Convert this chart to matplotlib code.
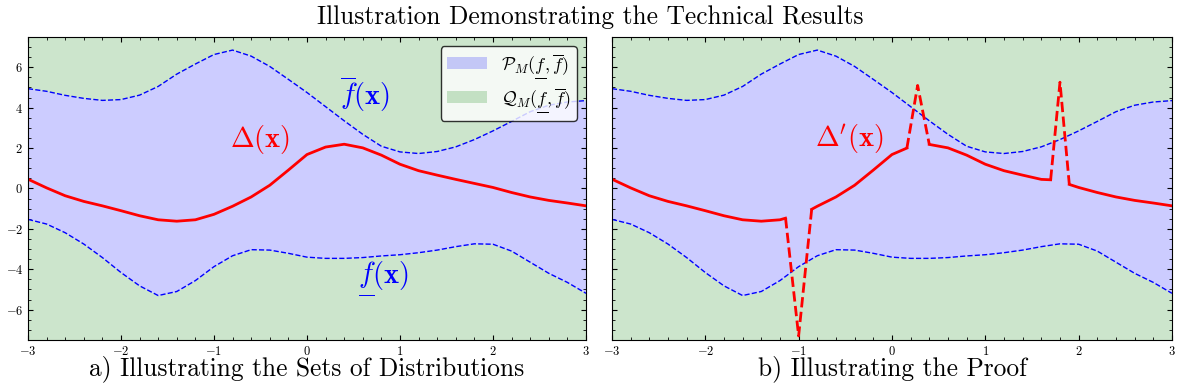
import numpy as np
import matplotlib
matplotlib.use("Agg")
from matplotlib import pyplot as plt
from matplotlib.patches import Patch
from matplotlib.ticker import MultipleLocator
from matplotlib.mathtext import MathTextParser

plt.rcParams['font.family'] = 'serif'
plt.rcParams['font.serif'] = ['cmr10']
plt.rcParams['mathtext.fontset'] = 'cm'
plt.rcParams['axes.formatter.use_mathtext'] = True

# values (step 0.2)
x = [-3.0, -2.8, -2.6, -2.4, -2.2, -2.0, -1.8, -1.6, -1.4, -1.2, -1.0,
     -0.8, -0.6, -0.4, -0.2, 0.0, 0.2, 0.4, 0.6, 0.8, 1.0,
     1.2, 1.4, 1.6, 1.8, 2.0, 2.2, 2.4, 2.6, 2.8, 3.0]
upper = [4.94, 4.81, 4.61, 4.46, 4.36, 4.40, 4.62, 5.05, 5.66, 6.16, 6.63,
         6.85, 6.55, 6.04, 5.40, 4.75, 4.05, 3.35, 2.68, 2.09, 1.81,
         1.73, 1.83, 2.06, 2.42, 2.85, 3.32, 3.80, 4.12, 4.28, 4.35]
lower = [-1.53, -1.76, -2.19, -2.75, -3.42, -4.16, -4.82, -5.30, -5.10, -4.56, -3.87,
         -3.33, -3.03, -3.05, -3.21, -3.40, -3.46, -3.46, -3.42, -3.34, -3.28,
         -3.18, -3.05, -2.88, -2.74, -2.76, -3.10, -3.65, -4.20, -4.65, -5.19]
delta = [0.46, 0.03, -0.36, -0.64, -0.86, -1.10, -1.35, -1.55, -1.62, -1.55, -1.28,
         -0.88, -0.42, 0.16, 0.91, 1.68, 2.05, 2.19, 2.01, 1.65, 1.20,
         0.88, 0.66, 0.45, 0.25, 0.05, -0.20, -0.42, -0.59, -0.72, -0.86]

# dashed spikes of Delta' in the right panel
spike_x = [[-1.14, -1.0, -0.86], [0.16, 0.275, 0.40], [1.70, 1.80, 1.90]]
spike_y = [[-1.47, -7.3, -1.03], [2.0, 5.1, 2.18], [0.43, 5.26, 0.2]]

x = np.array(x)
upper = np.array(upper)
lower = np.array(lower)
delta = np.array(delta)
ylo, yhi = -7.5, 7.5


def pick(cands):
    p = MathTextParser('path')
    for c in cands:
        try:
            p.parse('$' + c + '$')
            return c
        except Exception:
            pass
    return 'f'


# mathtext has no \underline
uf = pick([r'\underset{\overline{\;\;\;}}{f}', r'\underset{\_}{f}'])
of = r'\overline{f}'

fig = plt.figure(figsize=(11.8, 3.89), dpi=100)
ax1 = fig.add_axes([0.0237, 0.126, 0.4729, 0.779])
ax2 = fig.add_axes([0.5186, 0.126, 0.4746, 0.779], sharey=ax1)

for ax in (ax1, ax2):
    ax.fill_between(x, lower, upper, color='blue', alpha=0.2, lw=0)
    ax.fill_between(x, upper, yhi, color='green', alpha=0.2, lw=0)
    ax.fill_between(x, ylo, lower, color='green', alpha=0.2, lw=0)
    ax.plot(x, upper, color='blue', ls='--', lw=1)
    ax.plot(x, lower, color='blue', ls='--', lw=1)
    ax.set_xlim(-3, 3)
    ax.set_ylim(ylo, yhi)
    ax.xaxis.set_major_locator(MultipleLocator(1))
    ax.xaxis.set_minor_locator(MultipleLocator(0.2))
    ax.yaxis.set_major_locator(MultipleLocator(2))
    ax.yaxis.set_minor_locator(MultipleLocator(0.5))
    ax.tick_params(which='both', direction='in', top=True, right=True, labelsize=9)
    ax.tick_params(which='major', length=3.5)
    ax.tick_params(which='minor', length=2)

# left panel
ax1.plot(x, delta, color='red', lw=2)
ax1.text(-0.51, 2.44, r'$\Delta(\mathbf{x})$', color='red', fontsize=20.5, ha='center', va='center')
ax1.text(0.62, 4.65, r'$' + of + r'(\mathbf{x})$', color='blue', fontsize=20.5, ha='center', va='center')
ax1.text(0.82, -4.45, r'$' + uf + r'(\mathbf{x})$', color='blue', fontsize=20.5, ha='center', va='center')
handles = [Patch(facecolor='blue', alpha=0.2),
           Patch(facecolor='green', alpha=0.2)]
labels = [r'$\mathcal{P}_M(' + uf + ',' + of + ')$',
          r'$\mathcal{Q}_M(' + uf + ',' + of + ')$']
leg = ax1.legend(handles, labels, loc='upper right', fontsize=13, handlelength=2.2,
                 handletextpad=0.8, labelspacing=0.35, borderpad=0.35,
                 edgecolor='black', fancybox=True, borderaxespad=0.5)
leg.get_frame().set_linewidth(1.0)
ax1.set_xlabel('a) Illustrating the Sets of Distributions', fontsize=18.3, labelpad=-2)

# right panel: solid pieces between the spikes
a_pts = [(x[0], delta[0])] + [(sx[-1], sy[-1]) for sx, sy in zip(spike_x, spike_y)]
b_pts = [(sx[0], sy[0]) for sx, sy in zip(spike_x, spike_y)] + [(x[-1], delta[-1])]
for (xa, ya), (xb, yb) in zip(a_pts, b_pts):
    m = (x > xa) & (x < xb)
    px = np.concatenate([[xa], x[m], [xb]])
    py = np.concatenate([[ya], delta[m], [yb]])
    ax2.plot(px, py, color='red', lw=2)
for sx, sy in zip(spike_x, spike_y):
    ax2.plot(sx, sy, color='red', lw=2, ls='--')
ax2.text(-0.46, 2.44, r"$\Delta'(\mathbf{x})$", color='red', fontsize=20.5, ha='center', va='center')
ax2.tick_params(labelleft=False)
ax2.set_xlabel('b) Illustrating the Proof', fontsize=18.3, labelpad=-2)

fig.text(0.5, 0.955, 'Illustration Demonstrating the Technical Results', fontsize=18.3,
         ha='center', va='center')

plt.savefig('out.png', dpi=100)
